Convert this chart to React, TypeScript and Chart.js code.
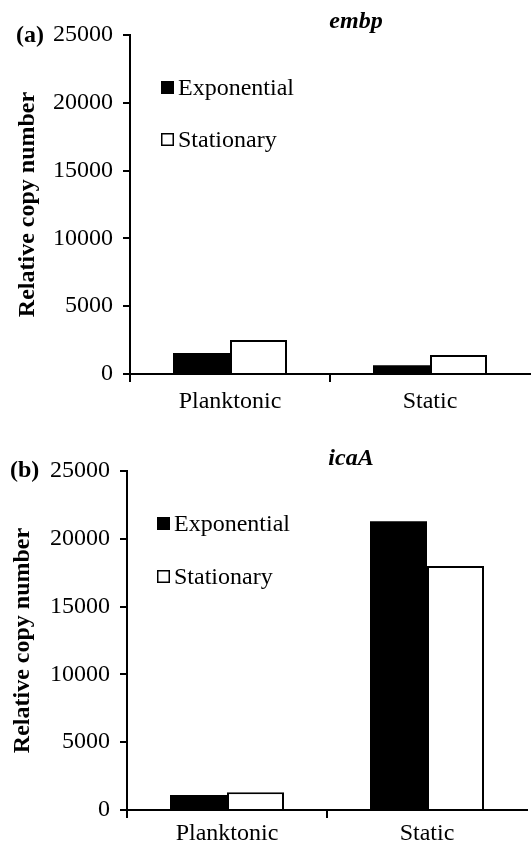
import React, { useEffect, useRef } from 'react';
import { Chart, registerables } from 'chart.js';

Chart.register(...registerables);

const categories = ['Planktonic', 'Static'];
const seriesNames = ['Exponential', 'Stationary'];
const embpExponential = [1550, 650];
const embpStationary = [2500, 1400];
const icaaExponential = [1100, 21300];
const icaaStationary = [1300, 18000];
const yTicks = [0, 5000, 10000, 15000, 20000, 25000];
const yAxisTitle = 'Relative copy number';
const panelLabels = ['(a)', '(b)'];
const geneTitles = ['embp', 'icaA'];

const FONT = "'Liberation Serif', 'Times New Roman', serif";
const FS = 24;

const annotatePlugin = {
  id: 'annotate',
  afterDraw(chart: any, _args: any, opts: any) {
    const { ctx, chartArea } = chart;
    ctx.save();
    ctx.fillStyle = '#000';
    ctx.textBaseline = 'alphabetic';
    ctx.font = `italic bold ${FS}px ${FONT}`;
    ctx.textAlign = 'center';
    ctx.fillText(opts.title, chartArea.left + opts.titleDx, chartArea.top - opts.titleDy);
    ctx.font = `bold ${FS}px ${FONT}`;
    ctx.textAlign = 'left';
    ctx.fillText(opts.label, opts.labelX, chartArea.top + opts.labelDy);
    ctx.font = `${FS}px ${FONT}`;
    chart.data.datasets.forEach((ds: any, i: number) => {
      const x = chartArea.left + opts.legendDx;
      const y = chartArea.top + opts.legendDy + i * opts.legendGap;
      const s = 13;
      ctx.fillStyle = ds.backgroundColor;
      ctx.fillRect(x, y, s, s);
      ctx.strokeStyle = '#000';
      ctx.lineWidth = 1.5;
      ctx.strokeRect(x + 0.75, y + 0.75, s - 1.5, s - 1.5);
      ctx.fillStyle = '#000';
      ctx.fillText(ds.label, x + s + 4, y + s + 1);
    });
    ctx.restore();
  },
};

type PanelProps = {
  height: number;
  exp: number[];
  stat: number[];
  label: string;
  title: string;
  pad: { left: number; top: number; right: number; bottom: number };
  yW: number;
  xH: number;
  xPad: number;
  ann: any;
};

function Panel(p: PanelProps) {
  const ref = useRef<HTMLCanvasElement | null>(null);
  useEffect(() => {
    if (!ref.current) return;
    const tickFont = { family: FONT, size: FS };
    const chart = new Chart(ref.current, {
      type: 'bar',
      data: {
        labels: categories,
        datasets: [
          {
            label: seriesNames[0],
            data: p.exp,
            backgroundColor: '#000',
            borderColor: '#000',
            borderWidth: 0,
            barPercentage: 1,
            categoryPercentage: 0.57,
          },
          {
            label: seriesNames[1],
            data: p.stat,
            backgroundColor: '#fff',
            borderColor: '#000',
            borderWidth: 2,
            barPercentage: 1,
            categoryPercentage: 0.57,
          },
        ],
      },
      options: {
        animation: false,
        responsive: true,
        maintainAspectRatio: false,
        layout: { padding: p.pad },
        plugins: {
          legend: { display: false },
          tooltip: { enabled: false },
          annotate: { ...p.ann, title: p.title, label: p.label },
        } as any,
        scales: {
          x: {
            grid: {
              display: true,
              drawOnChartArea: false,
              drawTicks: true,
              tickLength: 8,
              color: (c: any) => (c.type === 'tick' ? '#000' : 'rgba(0,0,0,0)'),
              lineWidth: 2,
              offset: true,
            },
            border: { display: true, color: '#000', width: 2 },
            ticks: { font: tickFont, color: '#000', padding: p.xPad, maxRotation: 0 },
            afterFit: (s: any) => {
              s.height = p.xH;
            },
          },
          y: {
            min: 0,
            max: 25000,
            afterBuildTicks: (s: any) => {
              s.ticks = yTicks.map((v) => ({ value: v }));
            },
            ticks: {
              font: tickFont,
              color: '#000',
              padding: 10,
              callback: (v: any) => String(v),
            },
            grid: {
              drawOnChartArea: false,
              drawTicks: true,
              tickLength: 7,
              color: '#000',
              lineWidth: 2,
            },
            border: { display: true, color: '#000', width: 2 },
            title: {
              display: true,
              text: yAxisTitle,
              font: { family: FONT, size: FS, weight: 'bold' },
              color: '#000',
              padding: 0,
            },
            afterFit: (s: any) => {
              s.width = p.yW;
            },
          },
        },
      },
      plugins: [annotatePlugin],
    });
    return () => chart.destroy();
  }, []);
  return (
    <div style={{ position: 'relative', width: 531, height: p.height }}>
      <canvas ref={ref} />
    </div>
  );
}

export default function App() {
  return (
    <div style={{ position: 'absolute', left: 0, top: 0, width: 531, height: 853, background: '#fff' }}>
      <Panel
        height={426}
        exp={embpExponential}
        stat={embpStationary}
        label={panelLabels[0]}
        title={geneTitles[0]}
        pad={{ left: 13, top: 35, right: 1, bottom: 0 }}
        yW={117}
        xH={52}
        xPad={5}
        ann={{ titleDx: 226, titleDy: 7, labelX: 16, labelDy: 7, legendDx: 31, legendDy: 46, legendGap: 52 }}
      />
      <Panel
        height={427}
        exp={icaaExponential}
        stat={icaaStationary}
        label={panelLabels[1]}
        title={geneTitles[1]}
        pad={{ left: 8, top: 45, right: 4, bottom: 0 }}
        yW={119}
        xH={43}
        xPad={1}
        ann={{ titleDx: 224, titleDy: 6, labelX: 10, labelDy: 6, legendDx: 30, legendDy: 46, legendGap: 53 }}
      />
    </div>
  );
}
